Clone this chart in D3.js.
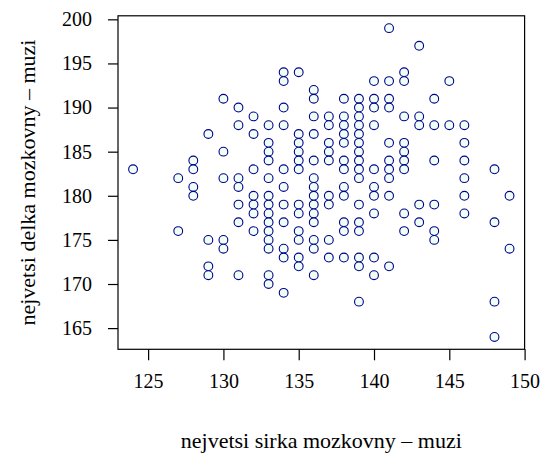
<!DOCTYPE html>
<html>
<head>
<meta charset="utf-8">
<script src="https://cdn.jsdelivr.net/npm/d3@7"></script>
<style>
  body { margin: 0; background: #fff; }
  svg text { font-family: "Liberation Serif", "DejaVu Serif", serif; fill: #000; }
</style>
</head>
<body>
<div id="chart"></div>
<script>
// sirka (x) -> list of delka (y) values at that x
var sirka = [124, 127, 128, 129, 130, 131, 132, 133, 134, 135, 136, 137, 138, 139, 140, 141, 142, 143, 144, 145, 146, 148, 149];
var delka = [
  [183],
  [182, 176],
  [184, 183, 181, 180],
  [187, 175, 172, 171],
  [191, 185, 182, 175, 174],
  [190, 188, 182, 181, 179, 177, 171],
  [189, 187, 183, 180, 179, 178, 176],
  [188, 186, 185, 184, 182, 180, 179, 178, 177, 176, 175, 174, 171, 170],
  [194, 193, 190, 188, 183, 181, 179, 177, 174, 173, 169],
  [194, 187, 186, 185, 184, 183, 179, 178, 176, 175, 173, 172],
  [192, 191, 189, 187, 184, 182, 181, 180, 179, 178, 177, 175, 174, 171],
  [189, 188, 186, 185, 184, 180, 179, 175, 173],
  [191, 189, 188, 187, 186, 184, 183, 181, 180, 177, 176, 173],
  [191, 190, 189, 188, 187, 186, 185, 184, 183, 182, 179, 177, 176, 173, 172, 168],
  [193, 191, 190, 188, 183, 181, 180, 178, 173, 171],
  [199, 193, 191, 190, 186, 184, 183, 182, 180, 172],
  [194, 193, 189, 186, 185, 184, 183, 178, 176],
  [197, 189, 188, 179, 177],
  [191, 188, 184, 179, 176, 175],
  [193, 188],
  [188, 186, 184, 182, 180, 178],
  [183, 177, 168, 164],
  [180, 174]
];
var xTicks = [125, 130, 135, 140, 145, 150];
var yTicks = [165, 170, 175, 180, 185, 190, 195, 200];
var xTitle = "nejvetsi sirka mozkovny \u2013 muzi";
var yTitle = "nejvetsi delka mozkovny \u2013 muzi";

var width = 542, height = 462;
var plotL = 118, plotR = 524.6, plotT = 15.8, plotB = 349.3;

var points = [];
sirka.forEach(function(s, i) {
  delka[i].forEach(function(d) { points.push([s, d]); });
});

var x = d3.scaleLinear().domain([123, 150]).range([plotL, plotR]);
var y = d3.scaleLinear().domain([162.6, 200.4]).range([plotB, plotT]);

var svg = d3.select('#chart').append('svg')
  .attr('width', width)
  .attr('height', height);

svg.append('rect')
  .attr('x', plotL).attr('y', plotT)
  .attr('width', plotR - plotL).attr('height', plotB - plotT)
  .attr('fill', 'none').attr('stroke', '#000').attr('stroke-width', 1.2);

var gx = svg.append('g')
  .attr('transform', 'translate(0,' + plotB + ')')
  .call(d3.axisBottom(x).tickValues(xTicks).tickSizeInner(11).tickSizeOuter(0).tickPadding(14));
var gy = svg.append('g')
  .attr('transform', 'translate(' + plotL + ',0)')
  .call(d3.axisLeft(y).tickValues(yTicks).tickSizeInner(10).tickSizeOuter(0).tickPadding(16));

[gx, gy].forEach(function(g) {
  g.select('.domain').remove();
  g.selectAll('line').attr('stroke', '#000').attr('stroke-width', 1.2);
  g.selectAll('text').attr('font-size', 20).attr('font-family', '"Liberation Serif", serif');
});

svg.append('g').selectAll('circle')
  .data(points)
  .enter().append('circle')
  .attr('cx', function(d) { return x(d[0]); })
  .attr('cy', function(d) { return y(d[1]); })
  .attr('r', 4.4)
  .attr('fill', '#f0fff6')
  .attr('stroke', '#00008b')
  .attr('stroke-width', 1.1);

svg.append('text')
  .attr('x', (plotL + plotR) / 2)
  .attr('y', 448)
  .attr('text-anchor', 'middle')
  .attr('font-size', 22)
  .text(xTitle);

svg.append('text')
  .attr('transform', 'translate(35,' + (plotT + plotB) / 2 + ') rotate(-90)')
  .attr('text-anchor', 'middle')
  .attr('font-size', 22)
  .text(yTitle);
</script>
</body>
</html>
